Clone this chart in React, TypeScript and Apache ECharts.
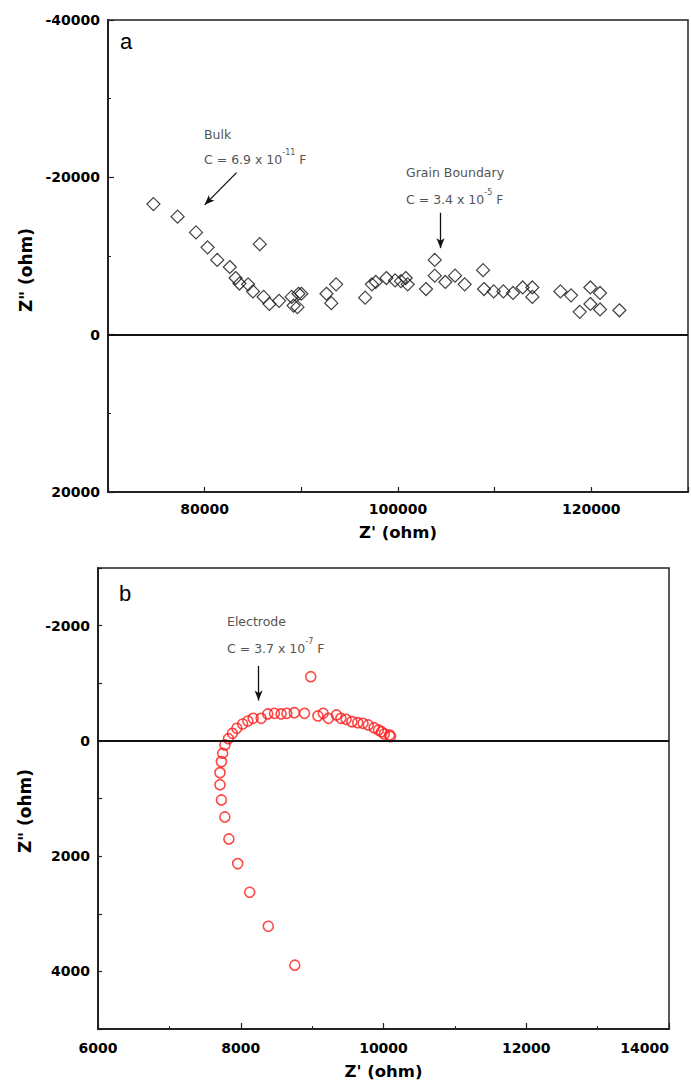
import React, { useEffect, useRef } from "react";
import * as echarts from "echarts";

// ---- Panel a data: Z' (ohm) and Z'' (ohm)
const A_RE = [74700, 77200, 79100, 80300, 81300, 82600, 83200, 83600, 84500, 85000, 85700, 86100, 86700, 87700, 89000, 89200, 89700, 90000, 89600, 92600, 93100, 93600, 96600, 97300, 97700, 98800, 100300, 99700, 100800, 101000, 102900, 103800, 103800, 104900, 105900, 106900, 108800, 108900, 109900, 110900, 111900, 112900, 113900, 113900, 116800, 117900, 118800, 119900, 119900, 120900, 120900, 122900];
const A_IM = [-16600, -15000, -13000, -11100, -9500, -8600, -7200, -6500, -6400, -5500, -11500, -4800, -3900, -4300, -4800, -3700, -5200, -5200, -3500, -5200, -4000, -6400, -4700, -6400, -6700, -7200, -6800, -6900, -7200, -6400, -5800, -9500, -7500, -6700, -7500, -6400, -8200, -5800, -5500, -5500, -5300, -6000, -6000, -4800, -5500, -5000, -2900, -6000, -3900, -5300, -3200, -3100];

// ---- Panel b data
const B_RE = [7709, 7729, 7778, 7834, 7957, 8125, 8386, 8757, 7709, 7729, 7747, 7778, 7827, 7883, 7945, 8026, 8100, 8174, 8286, 8379, 8472, 8565, 8646, 8751, 8894, 8981, 9081, 9155, 9229, 9341, 9403, 9477, 9557, 9639, 9713, 9787, 9868, 9930, 9973, 10011, 10085, 10098];
const B_IM = [760, 1025, 1320, 1702, 2130, 2627, 3217, 3893, 551, 360, 215, 71, -38, -132, -219, -293, -345, -392, -392, -467, -479, -467, -479, -490, -479, -1114, -432, -479, -392, -450, -392, -375, -334, -316, -305, -276, -229, -189, -160, -120, -103, -74];

// ---- Annotation arrows (data coordinates: [from, to])
const ARROW_BULK = [[83300, -20600], [80000, -16500]];
const ARROW_GRAIN = [[104400, -15500], [104400, -11000]];
const ARROW_ELECTRODE = [[8250, -1300], [8250, -700]];

// ---- Axis settings
const A_X = { min: 70000, max: 130000, interval: 10000, labelEvery: 20000 };
const A_Y = { min: -40000, max: 20000, interval: 20000 };
const B_X = { min: 6000, max: 14000, interval: 2000 };
const B_Y = { min: -3000, max: 5000, interval: 1000, labelEvery: 2000 };

const TICK_FONT = '"DejaVu Sans", Verdana, sans-serif';
const ANN_FONT = '"DejaVu Sans", sans-serif';

function arrowLine(pair: number[][]) {
  const ls = { color: "#111", width: 1.3, type: "solid" as const };
  return [
    { coord: pair[0], symbol: "none", lineStyle: ls },
    { coord: pair[1], symbol: "arrow", symbolSize: [6, 10], lineStyle: ls },
  ];
}

const zeroLine = { yAxis: 0, symbol: "none", lineStyle: { color: "#111", width: 2, type: "solid" as const } };

function axisCommon() {
  return {
    axisLine: { show: true, onZero: false, lineStyle: { color: "#222", width: 2 } },
    axisTick: { show: true, inside: true, length: 6, lineStyle: { color: "#222", width: 1.2 } },
    splitLine: { show: false },
    nameMoveOverlap: false,
    axisLabel: {
      color: "#000",
      fontFamily: TICK_FONT,
      fontWeight: "bold" as const,
      fontSize: 14,
      hideOverlap: false,
      formatter: (v: number) => String(v),
    },
  };
}

export default function App() {
  const ref = useRef<HTMLDivElement>(null);
  useEffect(() => {
    if (!ref.current) return;
    const chart = echarts.init(ref.current, null, { renderer: "svg" });
    const c = axisCommon();
    const annRich = {
      s: { fontSize: 8, fontFamily: ANN_FONT, fill: "#555", verticalAlign: "top", lineHeight: 18 },
      n: { fontSize: 12.5, fontFamily: ANN_FONT, fill: "#555", verticalAlign: "bottom", lineHeight: 18 },
    };
    const annText = (x: number, y: number, text: string) => ({
      type: "text",
      x,
      y,
      style: {
        text,
        fill: "#555",
        fontFamily: ANN_FONT,
        fontSize: 12.5,
        verticalAlign: "middle",
        align: "left",
        rich: annRich,
      },
    });
    const gridBase = { show: true, borderColor: "#222", borderWidth: 1.5, backgroundColor: "transparent", containLabel: false, outerBoundsMode: "none" };
    const option: any = {
      animation: false,
      backgroundColor: "#fff",
      grid: [
        { ...gridBase, left: 108, top: 20, width: 580, height: 472 },
        { ...gridBase, left: 98, top: 568, width: 571, height: 461 },
      ],
      xAxis: [
        {
          gridIndex: 0,
          type: "value",
          min: A_X.min,
          max: A_X.max,
          interval: A_X.interval,
          ...c,
          axisTick: { ...c.axisTick, length: 5 },
          axisLabel: {
            ...c.axisLabel,
            margin: 10,
            formatter: (v: number) => (v % A_X.labelEvery === 0 && v > A_X.min && v < A_X.max ? String(v) : ""),
          },
          name: "Z' (ohm)",
          nameLocation: "middle",
          nameGap: 32,
          nameTextStyle: { fontFamily: TICK_FONT, fontWeight: "bold", fontSize: 16.5, color: "#000" },
        },
        {
          gridIndex: 1,
          type: "value",
          min: B_X.min,
          max: B_X.max,
          interval: B_X.interval,
          ...c,
          minorTick: { show: true, splitNumber: 2, length: 3, lineStyle: { color: "#222", width: 1 } },
          axisLabel: { ...c.axisLabel, margin: 12, showMinLabel: true, showMaxLabel: true, alignMaxLabel: "right" },
          name: "Z' (ohm)",
          nameLocation: "middle",
          nameGap: 34,
          nameTextStyle: { fontFamily: TICK_FONT, fontWeight: "bold", fontSize: 16.5, color: "#000" },
        },
      ],
      yAxis: [
        {
          gridIndex: 0,
          type: "value",
          inverse: true,
          min: A_Y.min,
          max: A_Y.max,
          interval: A_Y.interval,
          ...c,
          minorTick: { show: true, splitNumber: 2, length: 3, lineStyle: { color: "#222", width: 1 } },
          axisLabel: { ...c.axisLabel, margin: 8 },
        },
        {
          gridIndex: 1,
          type: "value",
          inverse: true,
          min: B_Y.min,
          max: B_Y.max,
          interval: B_Y.interval,
          ...c,
          axisTick: { ...c.axisTick, length: 4 },
          axisLabel: {
            ...c.axisLabel,
            margin: 8,
            formatter: (v: number) => (v % B_Y.labelEvery === 0 ? String(v) : ""),
          },
        },
      ],
      series: [
        {
          type: "scatter",
          xAxisIndex: 0,
          yAxisIndex: 0,
          symbol: "diamond",
          symbolSize: [13, 13],
          itemStyle: { color: "transparent", borderColor: "#111", borderWidth: 1.2 },
          data: A_RE.map((x, i) => [x, A_IM[i]]),
          markLine: {
            silent: true,
            animation: false,
            label: { show: false },
            symbol: ["none", "none"],
            data: [zeroLine, arrowLine(ARROW_BULK), arrowLine(ARROW_GRAIN)],
          },
        },
        {
          type: "scatter",
          xAxisIndex: 1,
          yAxisIndex: 1,
          symbol: "circle",
          symbolSize: 10,
          itemStyle: { color: "transparent", borderColor: "#ff1a1a", borderWidth: 1.6 },
          data: B_RE.map((x, i) => [x, B_IM[i]]),
          markLine: {
            silent: true,
            animation: false,
            label: { show: false },
            symbol: ["none", "none"],
            data: [zeroLine, arrowLine(ARROW_ELECTRODE)],
          },
        },
      ],
      graphic: [
        {
          type: "text",
          x: 26,
          y: 270,
          rotation: Math.PI / 2,
          style: { text: 'Z" (ohm)', fontFamily: TICK_FONT, fontWeight: "bold", fontSize: 17, fill: "#000", align: "center", verticalAlign: "middle" },
        },
        {
          type: "text",
          x: 25,
          y: 811,
          rotation: Math.PI / 2,
          style: { text: 'Z" (ohm)', fontFamily: TICK_FONT, fontWeight: "bold", fontSize: 17, fill: "#000", align: "center", verticalAlign: "middle" },
        },
        { type: "text", x: 120, y: 41, style: { text: "a", fontFamily: "Arial, 'Liberation Sans', sans-serif", fontSize: 22, fill: "#000", verticalAlign: "middle" } },
        { type: "text", x: 119, y: 593, style: { text: "b", fontFamily: "Arial, 'Liberation Sans', sans-serif", fontSize: 22, fill: "#000", verticalAlign: "middle" } },
        annText(204, 132, "{n|Bulk}"),
        annText(204, 157, "{n|C = 6.9 x 10}{s|-11}{n| F}"),
        annText(406, 170, "{n|Grain Boundary}"),
        annText(406, 197, "{n|C = 3.4 x 10}{s|-5}{n| F}"),
        annText(227, 619, "{n|Electrode}"),
        annText(227, 646, "{n|C = 3.7 x 10}{s|-7}{n| F}"),
      ],
    };
    chart.setOption(option);
    return () => chart.dispose();
  }, []);
  return (
    <div
      ref={ref}
      style={{ position: "absolute", left: 0, top: 0, width: 691, height: 1080, background: "#fff" }}
    />
  );
}
